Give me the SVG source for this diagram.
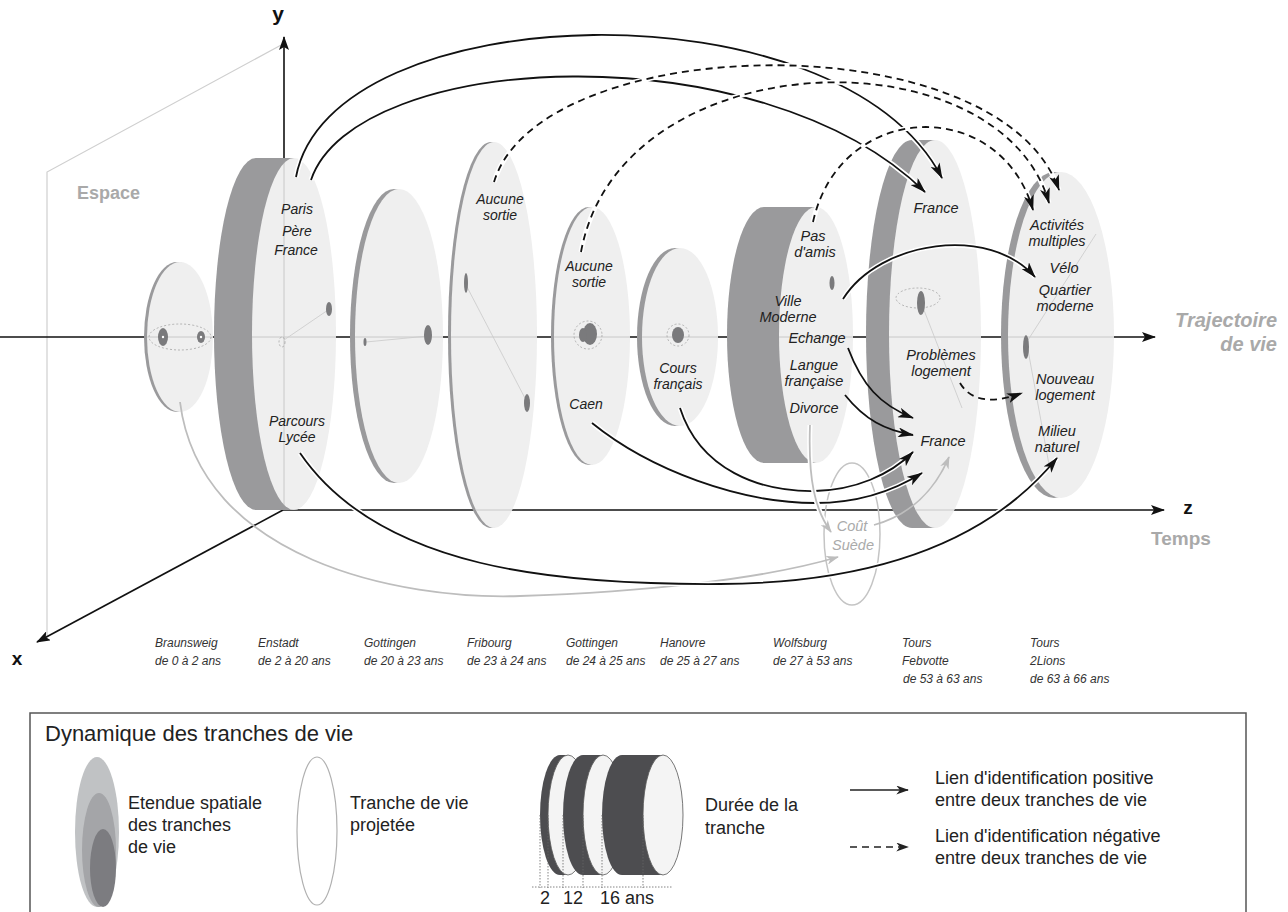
<svg xmlns="http://www.w3.org/2000/svg" width="1288" height="912" viewBox="0 0 1288 912">
<style>
text{font-family:"Liberation Sans",Arial,sans-serif}
.lbl{font-style:italic;font-size:14px;fill:#222;text-anchor:middle}
.lw{font-style:italic;font-size:14.5px;fill:#222;text-anchor:middle}
.bot{font-style:italic;font-size:12px;fill:#333}
.gt{font-weight:bold;fill:#a9a9a9}
.ax{font-weight:bold;fill:#111}
.leg{font-size:18px;fill:#222}
.rim{fill:#9a9a9c}
.face{fill:#efefef}
.axl{stroke:#111;stroke-width:1.6;fill:none}
.halo{fill:none;stroke:#fff;stroke-width:5}
.pos{fill:none;stroke:#111;stroke-width:1.8;marker-end:url(#ah)}
.neg{fill:none;stroke:#111;stroke-width:1.8;stroke-dasharray:7 5;marker-end:url(#ah)}
.gl{fill:none;stroke:#bdbdbd;stroke-width:1.8;marker-end:url(#ahg)}
.net{fill:#7a7a7c}
.nl{stroke:#c9c9c9;stroke-width:0.8;fill:none}
.dot{fill:none;stroke:#999;stroke-width:0.7;stroke-dasharray:2 2}
.cyl{fill:#4d4d50}
.cf{fill:#f4f4f4;stroke:#555;stroke-width:0.8}
.ms{stroke:#666;stroke-width:0.8;stroke-dasharray:1.5 1.5;fill:none}
</style>
<defs>
<marker id="ah" viewBox="0 0 16 10" refX="15" refY="5" markerWidth="16" markerHeight="10" markerUnits="userSpaceOnUse" orient="auto"><path d="M0,0 L16,5 L0,10 L4,5 z" fill="#111"/></marker>
<marker id="ahg" viewBox="0 0 14 10" refX="13" refY="5" markerWidth="13" markerHeight="9" markerUnits="userSpaceOnUse" orient="auto"><path d="M0,0 L14,5 L0,10 L4,5 z" fill="#bdbdbd"/></marker>
<marker id="aax" viewBox="0 0 14 10" refX="13" refY="5" markerWidth="14" markerHeight="10" markerUnits="userSpaceOnUse" orient="auto"><path d="M0,0 L14,5 L0,10 L3,5 z" fill="#111"/></marker>
<marker id="alg" viewBox="0 0 14 10" refX="13" refY="5" markerWidth="13" markerHeight="9" markerUnits="userSpaceOnUse" orient="auto"><path d="M0,0 L14,5 L0,10 L4,5 z" fill="#222"/></marker>
<clipPath id="faces">
<ellipse cx="180" cy="337" rx="33" ry="75"/>
<ellipse cx="294" cy="334" rx="42" ry="176"/>
<ellipse cx="399" cy="336" rx="44" ry="147"/>
<ellipse cx="494" cy="335" rx="43" ry="193"/>
<ellipse cx="592" cy="336" rx="38" ry="129"/>
<ellipse cx="680" cy="337" rx="38" ry="89"/>
<ellipse cx="816" cy="335" rx="37" ry="128"/>
<ellipse cx="935" cy="334" rx="46" ry="194"/>
<ellipse cx="1061" cy="335" rx="53" ry="163"/>
</clipPath>
</defs>
<rect width="1288" height="912" fill="#fff"/>

<!-- space plane and axes -->
<g id="axes">
<polyline points="283,44 47,172 47,638" fill="none" stroke="#cfcfcf" stroke-width="1.2"/>
<line x1="0" y1="337" x2="1155" y2="337" class="axl" marker-end="url(#aax)"/>
<line x1="284" y1="510" x2="284" y2="37" class="axl" marker-end="url(#aax)"/>
<line x1="283" y1="510" x2="1164" y2="510" class="axl" marker-end="url(#aax)"/>
<line x1="283" y1="510" x2="37" y2="642" class="axl" marker-end="url(#aax)"/>
<text x="278" y="21" class="ax" font-size="21" text-anchor="middle">y</text>
<text x="17" y="665" class="ax" font-size="19" text-anchor="middle">x</text>
<text x="1188" y="514" class="ax" font-size="19" text-anchor="middle">z</text>
<text x="77" y="199" class="gt" font-size="18">Espace</text>
<text x="1277" y="327" class="gt" font-size="20" font-style="italic" text-anchor="end">Trajectoire</text>
<text x="1277" y="351" class="gt" font-size="20" font-style="italic" text-anchor="end">de vie</text>
<text x="1151" y="545" class="gt" font-size="19">Temps</text>
</g>

<!-- disks -->
<g id="n-braunsweig">
<ellipse cx="177" cy="337" rx="33" ry="75" class="rim"/>
<ellipse cx="180" cy="337" rx="33" ry="75" class="face"/>
</g>
<g id="n-enstadt">
<ellipse cx="256" cy="334" rx="42" ry="176" class="rim"/>
<rect x="256" y="158" width="38" height="352" class="rim"/>
<ellipse cx="294" cy="334" rx="42" ry="176" class="face"/>
</g>
<g id="n-gottingen1">
<ellipse cx="394" cy="336" rx="44" ry="147" class="rim"/>
<ellipse cx="399" cy="336" rx="44" ry="147" class="face"/>
</g>
<g id="n-fribourg">
<ellipse cx="491" cy="335" rx="43" ry="193" class="rim"/>
<ellipse cx="494" cy="335" rx="43" ry="193" class="face"/>
</g>
<g id="n-gottingen2">
<ellipse cx="589" cy="336" rx="38" ry="129" class="rim"/>
<ellipse cx="592" cy="336" rx="38" ry="129" class="face"/>
</g>
<g id="n-hanovre">
<ellipse cx="675" cy="337" rx="38" ry="89" class="rim"/>
<ellipse cx="680" cy="337" rx="38" ry="89" class="face"/>
</g>
<g id="n-wolfsburg">
<ellipse cx="764" cy="335" rx="37" ry="128" class="rim"/>
<rect x="764" y="207" width="52" height="256" class="rim"/>
<ellipse cx="816" cy="335" rx="37" ry="128" class="face"/>
</g>
<g id="n-tours1">
<ellipse cx="912" cy="334" rx="46" ry="194" class="rim"/>
<rect x="912" y="140" width="23" height="388" class="rim"/>
<ellipse cx="935" cy="334" rx="46" ry="194" class="face"/>
</g>
<g id="n-tours2">
<ellipse cx="1054" cy="335" rx="53" ry="163" class="rim"/>
<ellipse cx="1061" cy="335" rx="53" ry="163" class="face"/>
</g>

<!-- axes seen through faces -->
<g clip-path="url(#faces)" stroke="#c8c8c8" stroke-width="1">
<line x1="0" y1="337" x2="1160" y2="337"/>
<line x1="284" y1="37" x2="284" y2="510"/>
<line x1="283" y1="510" x2="1164" y2="510"/>
</g>

<!-- small spatial networks -->
<g id="networks">
<ellipse cx="180" cy="337" rx="31" ry="13" class="dot"/>
<ellipse cx="163" cy="337" rx="5" ry="9" class="net"/>
<ellipse cx="201" cy="337" rx="4" ry="6" class="net"/>
<circle cx="163" cy="337" r="1.2" fill="#fff"/>
<circle cx="201" cy="337" r="1.2" fill="#fff"/>
<line x1="328" y1="310" x2="284" y2="340" class="nl"/>
<ellipse cx="329" cy="309" rx="3" ry="7" class="net"/>
<ellipse cx="282" cy="342" rx="3" ry="5" class="dot"/>
<line x1="428" y1="336" x2="366" y2="342" class="nl"/>
<ellipse cx="428" cy="335" rx="4" ry="10" class="net"/>
<ellipse cx="365" cy="342" rx="1.5" ry="4" class="net"/>
<line x1="466" y1="285" x2="527" y2="402" class="nl"/>
<ellipse cx="466" cy="283" rx="2" ry="10" class="net"/>
<ellipse cx="527" cy="403" rx="3" ry="9" class="net"/>
<ellipse cx="590" cy="334" rx="7" ry="11" class="net"/>
<ellipse cx="583" cy="335" rx="4" ry="7" class="net"/>
<circle cx="588" cy="335" r="14" class="dot"/>
<ellipse cx="678" cy="335" rx="6" ry="8" class="net"/>
<circle cx="678" cy="335" r="11" class="dot"/>
<ellipse cx="832" cy="283" rx="2.5" ry="7" class="net"/>
<line x1="922" y1="305" x2="962" y2="408" class="nl"/>
<ellipse cx="918" cy="298" rx="22" ry="10" class="dot"/>
<ellipse cx="921" cy="303" rx="4" ry="12" class="net"/>
<line x1="1028" y1="340" x2="1096" y2="234" class="nl"/>
<line x1="1028" y1="350" x2="1050" y2="470" class="nl"/>
<ellipse cx="1026" cy="347" rx="3" ry="12" class="net"/>
</g>

<!-- labels on disks -->
<g id="labels">
<text class="lbl" x="297" y="214">Paris</text>
<text class="lbl" x="297" y="236">Père</text>
<text class="lbl" x="296" y="255">France</text>
<text class="lbl" x="297" y="426">Parcours</text>
<text class="lbl" x="297" y="442">Lycée</text>
<text class="lbl" x="500" y="204">Aucune</text>
<text class="lbl" x="500" y="220">sortie</text>
<text class="lbl" x="589" y="271">Aucune</text>
<text class="lbl" x="589" y="287">sortie</text>
<text class="lbl" x="586" y="409">Caen</text>
<text class="lbl" x="678" y="373">Cours</text>
<text class="lbl" x="678" y="389">français</text>
<text class="lw" x="813" y="241">Pas</text>
<text class="lw" x="815" y="257">d'amis</text>
<text class="lw" x="788" y="306" text-anchor="start">Ville</text>
<text class="lw" x="788" y="322" text-anchor="start">Moderne</text>
<text class="lw" x="817" y="343">Echange</text>
<text class="lw" x="814" y="370">Langue</text>
<text class="lw" x="814" y="386">française</text>
<text class="lw" x="814" y="413">Divorce</text>
<text class="lw" x="936" y="213">France</text>
<text class="lw" x="941" y="360">Problèmes</text>
<text class="lw" x="941" y="376">logement</text>
<text class="lw" x="943" y="446">France</text>
<text class="lw" x="1057" y="230">Activités</text>
<text class="lw" x="1057" y="246">multiples</text>
<text class="lw" x="1064" y="273">Vélo</text>
<text class="lw" x="1065" y="295">Quartier</text>
<text class="lw" x="1065" y="311">moderne</text>
<text class="lw" x="1065" y="384">Nouveau</text>
<text class="lw" x="1065" y="400">logement</text>
<text class="lw" x="1057" y="436">Milieu</text>
<text class="lw" x="1057" y="452">naturel</text>
</g>

<g id="n-suede">
<ellipse cx="852" cy="534" rx="28" ry="71" fill="none" stroke="#c4c4c4" stroke-width="1.5"/>
<text class="lw" x="852" y="531" style="fill:#aaa">Coût</text>
<text class="lw" x="853" y="550" style="fill:#aaa">Suède</text>
</g>

<!-- connectors -->
<g id="connectors">
<path class="gl" d="M180,402 C200,560 400,600 520,596 C640,592 760,580 838,557"/>
<path class="halo" d="M296,177 C330,-5 840,-20 942,178"/>
<path class="pos" d="M296,177 C330,-5 840,-20 942,178"/>
<path class="halo" d="M311,180 C355,50 760,30 925,192"/>
<path class="pos" d="M311,180 C355,50 760,30 925,192"/>
<path class="halo" d="M300,453 C380,570 560,585 720,584 C880,583 990,540 1057,458"/>
<path class="pos" d="M300,453 C380,570 560,585 720,584 C880,583 990,540 1057,458"/>
<path class="halo" d="M592,423 C650,470 740,503 815,503 C860,503 895,490 922,473"/>
<path class="pos" d="M592,423 C650,470 740,503 815,503 C860,503 895,490 922,473"/>
<path class="halo" d="M680,408 C700,470 760,492 815,491 C855,490 890,475 913,452"/>
<path class="pos" d="M680,408 C700,470 760,492 815,491 C855,490 890,475 913,452"/>
<path class="pos" d="M848,348 C862,385 880,405 913,418"/>
<path class="pos" d="M845,395 C865,420 885,430 913,435"/>
<path class="halo" d="M843,299 C880,240 990,225 1035,277"/>
<path class="pos" d="M843,299 C880,240 990,225 1035,277"/>
<path class="halo" d="M494,182 C540,30 1000,20 1059,190"/>
<path class="neg" d="M494,182 C540,30 1000,20 1059,190"/>
<path class="halo" d="M581,252 C620,40 1000,30 1049,203"/>
<path class="neg" d="M581,252 C620,40 1000,30 1049,203"/>
<path class="halo" d="M813,222 C840,100 1000,95 1033,210"/>
<path class="neg" d="M813,222 C840,100 1000,95 1033,210"/>
<path class="neg" d="M960,383 C970,400 990,405 1022,393"/>
<path class="halo" d="M810,425 C808,480 815,510 831,532"/>
<path class="gl" d="M810,425 C808,480 815,510 831,532"/>
<path class="gl" d="M874,525 C910,515 935,490 949,457"/>
</g>

<!-- period labels -->
<g id="periods">
<text class="bot" x="155" y="647">Braunsweig</text><text class="bot" x="155" y="665">de 0 à 2 ans</text>
<text class="bot" x="258" y="647">Enstadt</text><text class="bot" x="258" y="665">de 2 à 20 ans</text>
<text class="bot" x="364" y="647">Gottingen</text><text class="bot" x="364" y="665">de 20 à 23 ans</text>
<text class="bot" x="467" y="647">Fribourg</text><text class="bot" x="467" y="665">de 23 à 24 ans</text>
<text class="bot" x="566" y="647">Gottingen</text><text class="bot" x="566" y="665">de 24 à 25 ans</text>
<text class="bot" x="660" y="647">Hanovre</text><text class="bot" x="660" y="665">de 25 à 27 ans</text>
<text class="bot" x="773" y="647">Wolfsburg</text><text class="bot" x="773" y="665">de 27 à 53 ans</text>
<text class="bot" x="902" y="647">Tours</text><text class="bot" x="902" y="665">Febvotte</text><text class="bot" x="903" y="683">de 53 à 63 ans</text>
<text class="bot" x="1030" y="647">Tours</text><text class="bot" x="1030" y="665">2Lions</text><text class="bot" x="1030" y="683">de 63 à 66 ans</text>
</g>

<!-- legend -->
<g id="legend">
<rect x="30" y="713" width="1216" height="215" fill="none" stroke="#555" stroke-width="1.5"/>
<text x="45" y="741" font-size="22" fill="#222">Dynamique des tranches de vie</text>
<ellipse cx="97" cy="832" rx="22" ry="75" fill="#c0c2c4"/>
<ellipse cx="99" cy="850" rx="17" ry="57" fill="#a4a5a8"/>
<ellipse cx="103" cy="868" rx="13" ry="39" fill="#7c7c80"/>
<text class="leg" x="128" y="809">Etendue spatiale</text>
<text class="leg" x="128" y="831">des tranches</text>
<text class="leg" x="128" y="853">de vie</text>
<ellipse cx="317" cy="831" rx="20" ry="74" fill="none" stroke="#b0b0b0" stroke-width="1.2"/>
<text class="leg" x="350" y="809">Tranche de vie</text>
<text class="leg" x="350" y="831">projetée</text>
<ellipse cx="560" cy="815" rx="20" ry="60" class="cyl"/>
<rect x="560" y="755" width="8" height="120" class="cyl"/>
<ellipse cx="568" cy="815" rx="20" ry="60" class="cf"/>
<ellipse cx="583" cy="815" rx="20" ry="60" class="cyl"/>
<rect x="583" y="755" width="20" height="120" class="cyl"/>
<ellipse cx="603" cy="815" rx="20" ry="60" class="cf"/>
<ellipse cx="622" cy="815" rx="20" ry="60" class="cyl"/>
<rect x="622" y="755" width="41" height="120" class="cyl"/>
<ellipse cx="663" cy="815" rx="20" ry="60" class="cf"/>
<path class="ms" d="M540,815 V888 M548,815 V888 M563,815 V888 M583,815 V888 M602,815 V888 M643,815 V888 M532,887 H672"/>
<text class="leg" x="545" y="904" text-anchor="middle">2</text>
<text class="leg" x="573" y="904" text-anchor="middle">12</text>
<text class="leg" x="600" y="904">16 ans</text>
<text class="leg" x="705" y="811">Durée de la</text>
<text class="leg" x="705" y="834">tranche</text>
<line x1="850" y1="790" x2="908" y2="790" stroke="#222" stroke-width="1.5" marker-end="url(#alg)"/>
<line x1="850" y1="847" x2="908" y2="847" stroke="#222" stroke-width="1.5" stroke-dasharray="7 5" marker-end="url(#alg)"/>
<text class="leg" x="935" y="784">Lien d'identification positive</text>
<text class="leg" x="935" y="806">entre deux tranches de vie</text>
<text class="leg" x="935" y="842">Lien d'identification négative</text>
<text class="leg" x="935" y="864">entre deux tranches de vie</text>
</g>
</svg>
